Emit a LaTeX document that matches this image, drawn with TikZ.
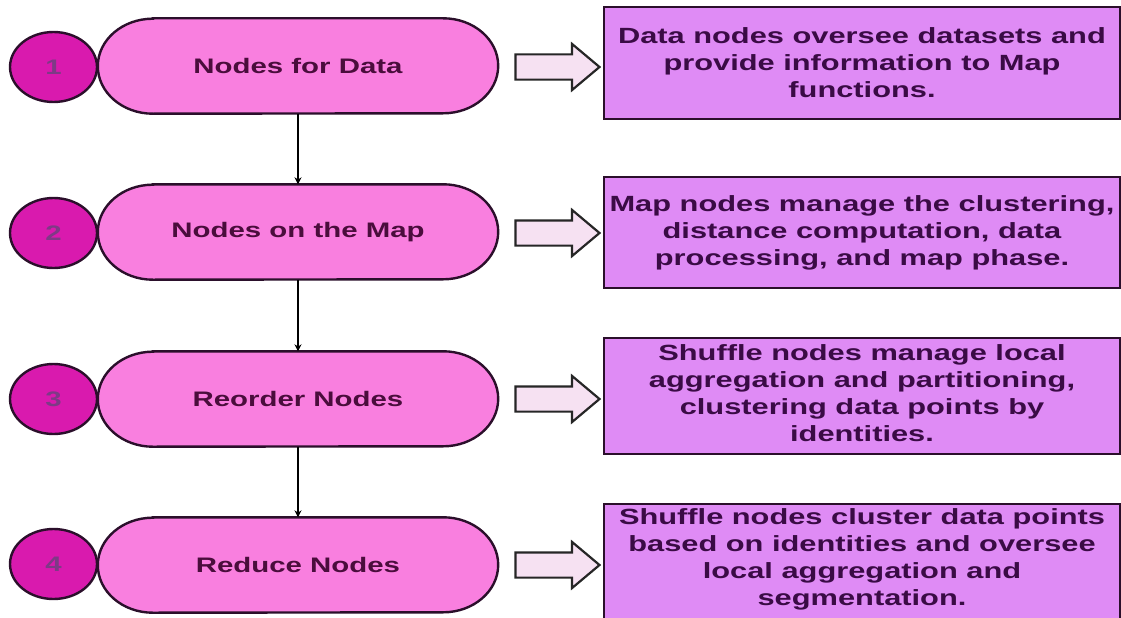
\documentclass[tikz,border=0pt]{standalone}
\usepackage{fontspec}
\setmainfont{Liberation Sans}[FakeStretch=1.4]
\usetikzlibrary{shapes.geometric,shapes.arrows,arrows.meta,calc,backgrounds}

\definecolor{pillfill}{HTML}{F97FDF}
\definecolor{dotfill}{HTML}{D91AAE}
\definecolor{dottext}{HTML}{7E3A86}
\definecolor{pilltext}{HTML}{4A0D3C}
\definecolor{boxfill}{HTML}{DF8BF5}
\definecolor{boxtext}{HTML}{3A0B45}
\definecolor{edge}{HTML}{2B0F2B}
\definecolor{arrowfill}{HTML}{F6E1F2}

\tikzset{
  x=1pt, y=1pt,
  pill/.style={rectangle, minimum width=400, minimum height=95, inner sep=0,
    font=\fontsize{21}{26}\selectfont\bfseries, text=pilltext},
  pillshape/.style={fill=pillfill, draw=edge, line width=2.4pt},
  stepdot/.style={ellipse, minimum width=87, minimum height=70, inner sep=0,
    fill=dotfill, draw=edge, line width=2.4pt,
    font=\fontsize{21}{26}\selectfont\bfseries, text=dottext},
  infobox/.style={rectangle, minimum width=516, inner sep=0,
    fill=boxfill, draw=edge, line width=2.4pt},
  infotext/.style={align=center, inner sep=0,
    font=\fontsize{22}{27}\selectfont\bfseries, text=boxtext},
  blockarrow/.style={single arrow, minimum height=84, minimum width=44,
    inner xsep=0, inner ysep=11.5,
    single arrow head extend=10.5, single arrow tip angle=80,
    fill=arrowfill, draw=black!85, line width=2.2pt},
  flow/.style={draw=black, line width=1.8pt, -{Stealth[length=7pt,width=7pt]}}
}

\begin{document}
\begin{tikzpicture}
\useasboundingbox (0,0) rectangle (1121,-618);
\clip (0,0) rectangle (1121,-618);

% step pills
\node[pill] (p1) at (298,-66)  {Nodes for Data};
\node[pill] (p2) at (298,-232) {Nodes on the Map};
\node[pill] (p3) at (298,-399) {Reorder Nodes};
\node[pill] (p4) at (298,-565) {Reduce Nodes};

\begin{pgfonlayer}{background}
  \fill[white] (0,0) rectangle (1121,-618);
  \foreach \n in {p1,p2,p3,p4}{
    \draw[pillshape]
      ($(\n.north west)+(55,0)$) -- ($(\n.north east)+(-55,0)$)
      arc[start angle=90, end angle=-90, x radius=55, y radius=47.5]
      -- ($(\n.south west)+(55,0)$)
      arc[start angle=270, end angle=90, x radius=55, y radius=47.5]
      -- cycle;
  }
\end{pgfonlayer}

% numbered badges
\node[stepdot] (d1) at (53.5,-67)  {1};
\node[stepdot] (d2) at (53.5,-233) {2};
\node[stepdot] (d3) at (53.5,-399) {3};
\node[stepdot] (d4) at (53.5,-564) {4};

% block arrows
\node[blockarrow] (a1) at (550,-67)  {};
\node[blockarrow] (a2) at (550,-233) {};
\node[blockarrow] (a3) at (550,-399) {};
\node[blockarrow] (a4) at (550,-565) {};

% description boxes
\node[infobox, minimum height=112] (b1) at (862,-63) {};
\node[infotext] (t1) at (b1.center) {Data nodes oversee datasets and\\provide information to Map\\functions.};
\node[infobox, minimum height=111] (b2) at (862,-232.5) {};
\node[infotext] (t2) at (b2.center) {Map nodes manage the clustering,\\distance computation, data\\processing, and map phase.};
\node[infobox, minimum height=116] (b3) at (862,-396) {};
\node[infotext] (t3) at ($(b3.center)+(0,3)$) {Shuffle nodes manage local\\aggregation and partitioning,\\clustering data points by\\identities.};
\node[infobox, minimum height=127, anchor=north] (b4) at (862,-503) {};
\node[infotext] (t4) at ($(b4.north)+(0,-56)$) {Shuffle nodes cluster data points\\based on identities and oversee\\local aggregation and\\segmentation.};

% vertical flow
\draw[flow] (p1.south) -- (p2.north);
\draw[flow] (p2.south) -- (p3.north);
\draw[flow] (p3.south) -- (p4.north);
\end{tikzpicture}
\end{document}
